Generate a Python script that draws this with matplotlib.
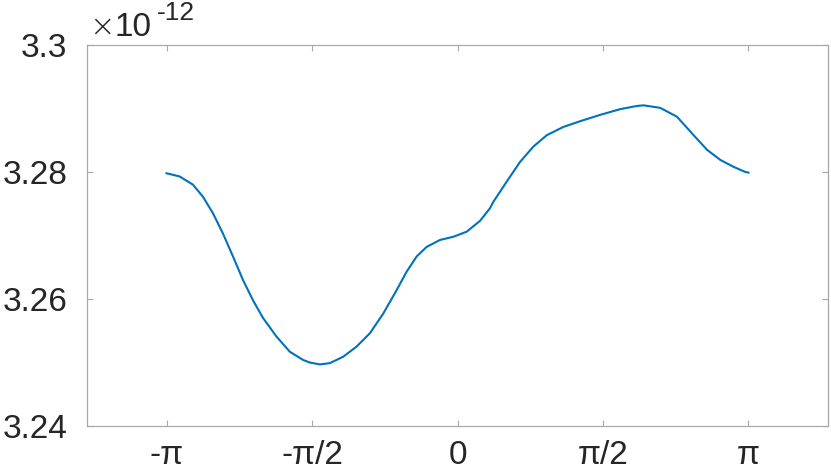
import matplotlib
matplotlib.use('Agg')
import matplotlib.pyplot as plt
import numpy as np

plt.rcParams['font.family'] = ['Liberation Sans', 'DejaVu Sans']

# curve (x in rad, y in units of 1e-12)
x_vals = [-3.1416, -3.000, -2.856, -2.748, -2.640, -2.532, -2.424, -2.316,
          -2.208, -2.099, -1.955, -1.811, -1.667, -1.595, -1.522, -1.486,
          -1.378, -1.235, -1.090, -0.946, -0.802, -0.657, -0.549, -0.441,
          -0.333, -0.189, -0.045, 0.099, 0.243, 0.351, 0.387, 0.532, 0.676,
          0.819, 0.964, 1.144, 1.324, 1.541, 1.757, 1.937, 2.009, 2.189,
          2.370, 2.549, 2.694, 2.838, 2.982, 3.108, 3.1416]
y_vals = [3.2798, 3.2793, 3.2780, 3.2761, 3.2735, 3.2703, 3.2667, 3.2630,
          3.2598, 3.2570, 3.2541, 3.2517, 3.2504, 3.2500, 3.2498, 3.2497,
          3.2499, 3.2509, 3.2525, 3.2546, 3.2577, 3.2614, 3.2643, 3.2667,
          3.2682, 3.2693, 3.2698, 3.2706, 3.2723, 3.2743, 3.2753, 3.2785,
          3.2816, 3.2840, 3.2858, 3.2871, 3.2880, 3.2890, 3.2899, 3.2904,
          3.2905, 3.2901, 3.2887, 3.2858, 3.2835, 3.2819, 3.2808, 3.2800,
          3.2799]

x_ticks = [-np.pi, -np.pi / 2, 0, np.pi / 2, np.pi]
x_labels = ['-\u03c0', '-\u03c0/2', '0', '\u03c0/2', '\u03c0']
y_ticks = [3.24, 3.26, 3.28, 3.30]
y_labels = ['3.24', '3.26', '3.28', '3.3']
scale = 1e-12

W, H = 831, 472
fig = plt.figure(figsize=(W / 100, H / 100), dpi=100)
ax = fig.add_axes([87 / W, 1 - 426 / H, (828 - 87) / W, (426 - 45) / H])

ax.plot(np.array(x_vals), np.array(y_vals) * scale, color='#0072BD', lw=1.5,
        solid_joinstyle='round')

ax.set_xlim(-4, 4)
ax.set_ylim(3.24 * scale, 3.30 * scale)
ax.set_xticks(x_ticks)
ax.set_xticklabels(x_labels)
ax.set_yticks([v * scale for v in y_ticks])
ax.set_yticklabels(y_labels)

gray = '#a8a8a8'
for sp in ax.spines.values():
    sp.set_color(gray)
    sp.set_linewidth(0.9)
ax.tick_params(direction='in', length=4, width=0.8, color=gray,
               top=True, right=True, labelsize=24, labelcolor='#262626')
ax.tick_params(axis='y', pad=14)
ax.tick_params(axis='x', pad=10)

# exponent label, MATLAB style
fig.text(89 / W, 1 - 36 / H, '\u00d7', fontsize=22, color='#262626',
         family='DejaVu Sans', fontweight='light', ha='left', va='baseline')
fig.text(115 / W, 1 - 36 / H, '10', fontsize=24, color='#262626',
         ha='left', va='baseline')
fig.text(157 / W, 1 - 20 / H, '-12', fontsize=19, color='#262626',
         ha='left', va='baseline')

fig.savefig('out.png', dpi=100)
plt.close(fig)
